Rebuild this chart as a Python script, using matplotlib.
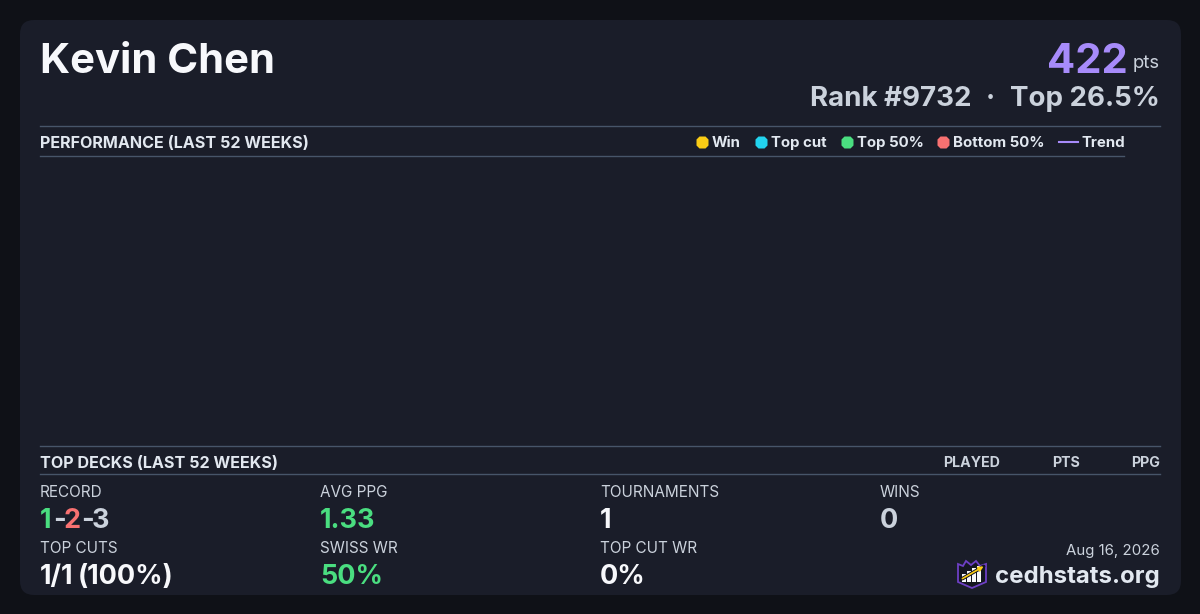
#!/usr/bin/env python
# coding: utf-8
import matplotlib
matplotlib.use('Agg')
import matplotlib.pyplot as plt
from matplotlib.patches import FancyBboxPatch, Polygon, Rectangle

plt.rcParams['font.family'] = ['Inter', 'DejaVu Sans']

BG = '#0f1117'
CARD = '#1a1d29'
RULE = '#475569'
WHITE = '#f7f8fb'
LIGHT = '#e2e8f0'
MUTED = '#cbd2dc'
PURPLE = '#a78bfa'
GREEN = '#4ade80'
RED = '#f87171'

player = 'Kevin Chen'
points = '422'
rank_text = 'Rank #9732'
top_pct_text = 'Top 26.5%'
date_text = 'Aug 16, 2026'
site = 'cedhstats.org'

legend_labels = ['Win', 'Top cut', 'Top 50%', 'Bottom 50%']
legend_colors = ['#facc15', '#22d3ee', GREEN, RED]
legend_x = [702, 761, 847, 943]

deck_cols = ['PLAYED', 'PTS', 'PPG']
deck_cols_x = [1000, 1080, 1160]

stat_x = [40, 320, 600, 880]
top_labels = ['RECORD', 'AVG PPG', 'TOURNAMENTS', 'WINS']
top_values = [None, '1.33', '1', '0']
top_colors = [None, GREEN, WHITE, MUTED]
bottom_labels = ['TOP CUTS', 'SWISS WR', 'TOP CUT WR']
bottom_values = [None, '50%', '0%']
bottom_colors = [None, GREEN, WHITE]
top_cut_parts = [('1/1', 40), ('(100%)', 78)]
record = [('1', GREEN), ('-', MUTED), ('2', RED), ('-', MUTED), ('3', MUTED)]
record_x = [40, 53, 63.5, 81, 91.5]


def px(size):
    return size * 72 / 100


fig = plt.figure(figsize=(12, 6.14), dpi=100, facecolor=BG)
ax = fig.add_axes([0, 0, 1, 1])
ax.set_xlim(0, 1200)
ax.set_ylim(614, 0)
ax.axis('off')

ax.add_patch(FancyBboxPatch((20, 20), 1161, 575, boxstyle='round,pad=0,rounding_size=14',
                            fc=CARD, ec='none'))


def label(x, y, s, size, color, weight='normal', ha='left'):
    return ax.text(x, y, s, fontsize=px(size), color=color, fontweight=weight,
                   ha=ha, va='baseline')


label(40, 73, player, 41.8, WHITE, 'bold')
label(1127.5, 73, points, 41.8, PURPLE, 'bold', ha='right')
label(1160, 68, 'pts', 18.5, MUTED, ha='right')
label(810, 106, rank_text, 27.7, MUTED, 'bold')
label(990.5, 106, '·', 27.7, MUTED, 'bold', ha='center')
label(1160, 106, top_pct_text, 27.7, MUTED, 'bold', ha='right')

# section rules
ax.plot([40, 1160], [125.5, 125.5], color=RULE, lw=1)
ax.plot([40, 1124], [155.5, 155.5], color=RULE, lw=1)
ax.plot([40, 1160], [445.5, 445.5], color=RULE, lw=1)
ax.plot([40, 1160], [473.5, 473.5], color=RULE, lw=1)

label(40, 148, 'PERFORMANCE (LAST 52 WEEKS)', 16.12, LIGHT, 'bold')
label(40, 468, 'TOP DECKS (LAST 52 WEEKS)', 16.12, LIGHT, 'bold')

for name, color, x in zip(legend_labels, legend_colors, legend_x):
    ax.plot(x, 141.5, '8', ms=9.6, color=color, mec='none')
    label(x + 10, 147, name, 15, LIGHT, 'bold')
ax.plot([1059, 1078], [141.5, 141.5], color=PURPLE, lw=1.5)
label(1081, 147, 'Trend', 15, LIGHT, 'bold')

for name, x in zip(deck_cols, deck_cols_x):
    label(x, 467, name, 14.2, MUTED, 'bold', ha='right')

for i, x in enumerate(stat_x):
    label(x, 497, top_labels[i], 15.3, MUTED)
    if top_values[i] is not None:
        label(x, 528, top_values[i], 27, top_colors[i], 'bold')
for (s, color), x in zip(record, record_x):
    label(x, 528, s, 27, color, 'bold')
for i in range(3):
    label(stat_x[i], 553, bottom_labels[i], 15.3, MUTED)
    if bottom_values[i] is not None:
        label(stat_x[i], 584, bottom_values[i], 27, bottom_colors[i], 'bold')
for s, x in top_cut_parts:
    label(x, 584, s, 27, WHITE, 'bold')

label(1160, 555, date_text, 15, MUTED, ha='right')
label(1160, 583, site, 24, LIGHT, 'bold', ha='right')

# logo
ax.add_patch(Polygon([(958, 564), (963, 566), (966, 561), (971, 565), (976, 561), (980, 566),
                      (986, 564), (986, 582), (972, 588), (958, 582)],
                     closed=True, fc='#141620', ec='#6d3fc4', lw=1.3))
for x, top in [(962, 574), (967, 571), (972, 568), (977, 566)]:
    ax.add_patch(Rectangle((x, top), 3.5, 582 - top, fc=WHITE, ec='none'))
ax.annotate('', xy=(986, 565), xytext=(960, 580),
            arrowprops=dict(arrowstyle='-', color='#141620', lw=2.6))
ax.annotate('', xy=(986, 565), xytext=(960, 580),
            arrowprops=dict(arrowstyle='-|>', color='#facc15', lw=1.2, mutation_scale=7))

fig.savefig('out.png', dpi=100, facecolor=BG)
